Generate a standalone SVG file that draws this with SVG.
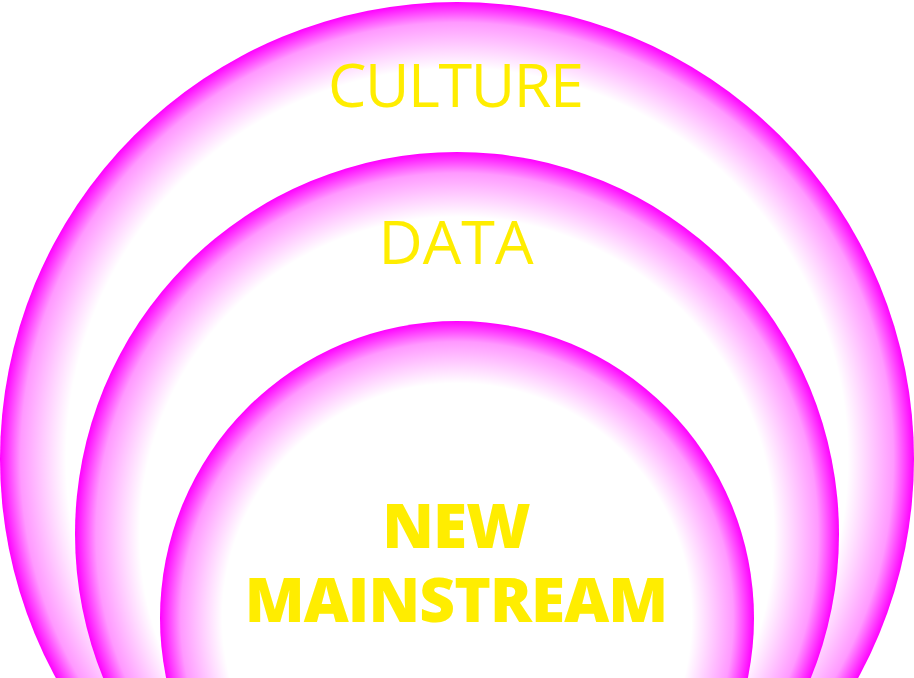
<svg xmlns="http://www.w3.org/2000/svg" width="914" height="678" viewBox="0 0 914 678">
<defs>
<radialGradient id="g1"><stop offset="0.855" stop-color="#fff"/><stop offset="0.955" stop-color="#ff99ff"/><stop offset="1" stop-color="#f0f"/></radialGradient>
<radialGradient id="g2"><stop offset="0.83" stop-color="#fff"/><stop offset="0.945" stop-color="#ff99ff"/><stop offset="1" stop-color="#f0f"/></radialGradient>
<radialGradient id="g3"><stop offset="0.79" stop-color="#fff"/><stop offset="0.93" stop-color="#ff99ff"/><stop offset="1" stop-color="#f0f"/></radialGradient>
</defs>
<style>
.l{font-family:"Open Sans","Liberation Sans",sans-serif;font-weight:400;fill:#ffed00;text-anchor:middle}
.b{font-family:"Open Sans","Liberation Sans",sans-serif;font-weight:800;fill:#ffed00;text-anchor:middle;letter-spacing:-0.9px}
</style>
<rect width="914" height="678" fill="#fff"/>
<g id="culture"><circle cx="457" cy="459" r="457" fill="url(#g1)"/><text class="l" x="456" y="107" font-size="61" textLength="256">CULTURE</text></g>
<g id="data"><circle cx="457" cy="534" r="382" fill="url(#g2)"/><text class="l" x="456" y="264" font-size="61" textLength="155">DATA</text></g>
<g id="new-mainstream"><circle cx="457" cy="618" r="297" fill="url(#g3)"/><text class="b" x="456" y="548" font-size="62">NEW</text><text class="b" x="456" y="622" font-size="62">MAINSTREAM</text></g>
<g id="connectors"/>
</svg>
